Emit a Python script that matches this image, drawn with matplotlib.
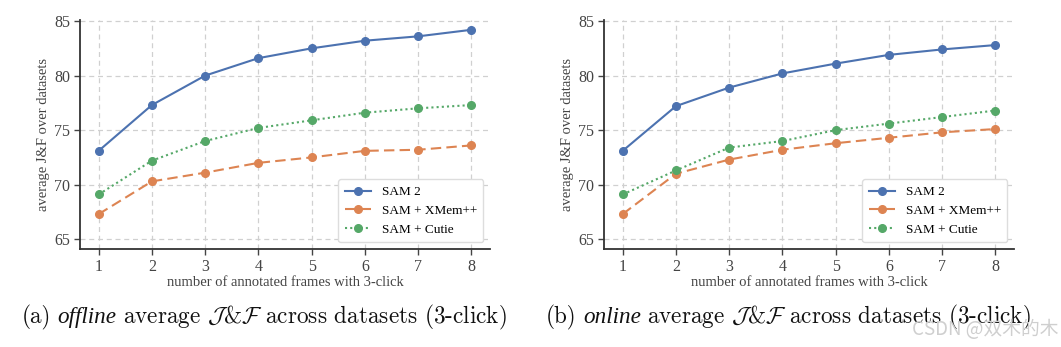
import numpy as np
import matplotlib
matplotlib.use("Agg")
import matplotlib.pyplot as plt

# Data
frames = [1, 2, 3, 4, 5, 6, 7, 8]
labels = ["SAM 2", "SAM + XMem++", "SAM + Cutie"]

offline_sam2 = [73.1, 77.3, 80.0, 81.6, 82.5, 83.2, 83.6, 84.2]
offline_xmem = [67.3, 70.3, 71.1, 72.0, 72.5, 73.1, 73.2, 73.6]
offline_cutie = [69.1, 72.2, 74.0, 75.2, 75.9, 76.6, 77.0, 77.3]

online_sam2 = [73.1, 77.2, 78.9, 80.2, 81.1, 81.9, 82.4, 82.8]
online_xmem = [67.3, 71.0, 72.3, 73.2, 73.8, 74.3, 74.8, 75.1]
online_cutie = [69.1, 71.3, 73.4, 74.0, 75.0, 75.6, 76.2, 76.8]

yticks = [65, 70, 75, 80, 85]

plt.rcParams["font.family"] = ["Liberation Serif", "DejaVu Serif"]
plt.rcParams["mathtext.fontset"] = "cm"

colors = ["#4c72b0", "#dd8452", "#55a868"]
styles = ["-", (0, (5, 2.5)), (0, (1, 1.5))]

fig = plt.figure(figsize=(10.61, 3.47), dpi=100)
ax1 = fig.add_axes([0.0754, 0.2824, 0.3864, 0.66])
ax2 = fig.add_axes([0.5693, 0.2824, 0.3864, 0.66])

panels = [
    (ax1, [offline_sam2, offline_xmem, offline_cutie], "(a)", "offline", 22),
    (ax2, [online_sam2, online_xmem, online_cutie], "(b)", "online", 546),
]
rest = r"average $\mathcal{J}$&$\mathcal{F}$ across datasets (3-click)"

for ax, series, tag, mode, x_px in panels:
    for vals, lab, c, ls in zip(series, labels, colors, styles):
        ax.plot(frames, vals, color=c, linestyle=ls, linewidth=1.5,
                marker="o", markersize=5.5, label=lab)
    ax.set_xlim(0.65, 8.35)
    ax.set_ylim(64.1, 85.1)
    ax.set_xticks(frames)
    ax.set_yticks(yticks)
    ax.grid(True, linestyle=(0, (4, 3)), color="#d0d0d0", linewidth=0.9)
    ax.set_axisbelow(True)
    for s in ["top", "right"]:
        ax.spines[s].set_visible(False)
    for s in ["left", "bottom"]:
        ax.spines[s].set_color("#333333")
        ax.spines[s].set_linewidth(1.3)
    ax.tick_params(labelsize=11.5, colors="#444444", length=4, width=1.0,
                   pad=3)
    ax.set_xlabel("number of annotated frames with 3-click", fontsize=10.5,
                  color="#444444", labelpad=1)
    ax.set_ylabel("average J&F over datasets", fontsize=10.5, color="#444444",
                  labelpad=3)
    ax.legend(loc="lower right", fontsize=9.5, frameon=True, framealpha=1.0,
                edgecolor="#dddddd", handlelength=2.0, borderpad=0.5,
                labelspacing=0.5, bbox_to_anchor=(1.0, 0.0))

    # caption built from pieces so the italic word looks like text italic
    renderer = fig.canvas.get_renderer()
    x = x_px / fig.bbox.width
    y = 1 - 323 / fig.bbox.height
    gap = 6.2 / fig.bbox.width
    pieces = [(tag, dict(family="cmr10")),
              (mode, dict(family="Liberation Serif", style="italic")),
              (rest, dict(family="cmr10"))]
    for txt, kw in pieces:
        t = fig.text(x, y, txt, ha="left", va="baseline", fontsize=16.7,
                     color="#111111", **kw)
        w = t.get_window_extent(renderer).width
        x += w / fig.bbox.width + gap

fig.text(0.998, 0.02, "CSDN @双木的木", ha="right", va="bottom", fontsize=13.5,
         color="#cfcfcf", family=["Noto Sans CJK SC", "DejaVu Sans"])

fig.savefig("out.png", dpi=100, facecolor="white")
